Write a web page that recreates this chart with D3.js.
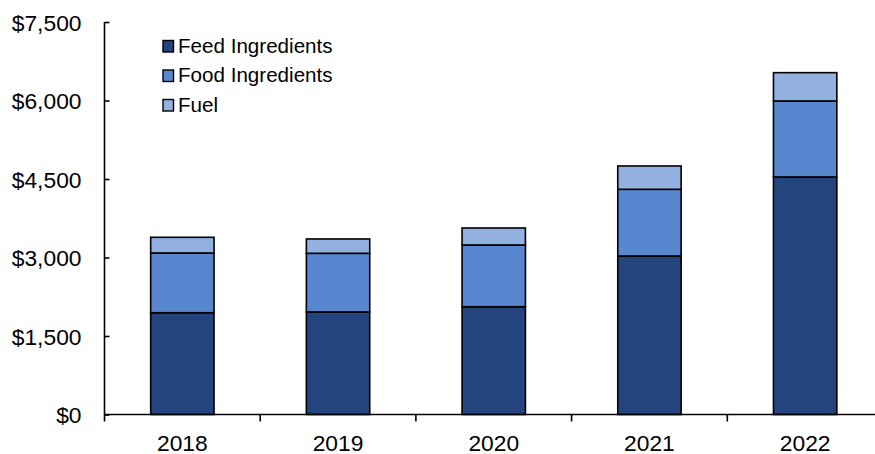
<!DOCTYPE html>
<html>
<head>
<meta charset="utf-8">
<script src="https://cdn.jsdelivr.net/npm/d3@7"></script>
<style>
  html, body { margin: 0; padding: 0; background: #fff; }
  svg { display: block; font-family: "Liberation Sans", Arial, sans-serif; }
</style>
</head>
<body>
<svg id="chart" width="875" height="454"></svg>
<script>
// Revenue by segment, $ millions
const years = ["2018", "2019", "2020", "2021", "2022"];
const feedIngredients = [1945, 1960, 2060, 3029, 4539];
const foodIngredients = [1141, 1120, 1179, 1274, 1452];
const fuel = [300, 274, 325, 446, 541];
const seriesNames = ["Feed Ingredients", "Food Ingredients", "Fuel"];
const yTicks = [0, 1500, 3000, 4500, 6000, 7500];

const colors = ["#23447c", "#5887d0", "#92b0e0"];

const svg = d3.select("#chart");
const plotLeft = 104.5, plotRight = 883, plotTop = 22, plotBottom = 414.5;

const x = d3.scaleBand().domain(years).range([plotLeft, plotRight]).padding(0);
const y = d3.scaleLinear().domain([0, 7500]).range([plotBottom, plotTop]);

const rows = years.map((yr, i) => ({
  year: yr,
  "Feed Ingredients": feedIngredients[i],
  "Food Ingredients": foodIngredients[i],
  "Fuel": fuel[i]
}));
const stacked = d3.stack().keys(seriesNames)(rows);

const barW = x.bandwidth() * 0.407;

svg.append("g")
  .selectAll("g")
  .data(stacked)
  .join("g")
  .attr("fill", (d, i) => colors[i])
  .selectAll("rect")
  .data(d => d)
  .join("rect")
  .attr("x", d => x(d.data.year) + (x.bandwidth() - barW) / 2)
  .attr("y", d => y(d[1]))
  .attr("width", barW)
  .attr("height", d => y(d[0]) - y(d[1]))
  .attr("stroke", "#000")
  .attr("stroke-width", 1.6);

// Y axis
const yAxis = d3.axisLeft(y)
  .tickValues(yTicks)
  .tickFormat(d => "$" + d3.format(",")(d))
  .tickSizeInner(-5)
  .tickSizeOuter(0)
  .tickPadding(23);

const gy = svg.append("g").attr("transform", `translate(${plotLeft},0)`).call(yAxis);
gy.select(".domain").remove();
gy.selectAll(".tick line").attr("stroke", "#000").attr("stroke-width", 1.6);
gy.selectAll(".tick text")
  .attr("fill", "#000")
  .attr("font-size", 22.8)
  .attr("dy", "0.36em");
svg.append("line")
  .attr("x1", plotLeft).attr("x2", plotLeft)
  .attr("y1", plotTop).attr("y2", plotBottom + 7)
  .attr("stroke", "#000").attr("stroke-width", 1.6);

// X axis
svg.append("line")
  .attr("x1", plotLeft).attr("x2", 875)
  .attr("y1", plotBottom).attr("y2", plotBottom)
  .attr("stroke", "#000").attr("stroke-width", 1.6);
const bounds = years.slice(1).map(d => x(d));
svg.append("g")
  .selectAll("line")
  .data(bounds)
  .join("line")
  .attr("x1", d => d).attr("x2", d => d)
  .attr("y1", plotBottom).attr("y2", plotBottom + 7)
  .attr("stroke", "#000").attr("stroke-width", 1.6);
svg.append("g")
  .selectAll("text")
  .data(years)
  .join("text")
  .attr("x", d => x(d) + x.bandwidth() / 2)
  .attr("y", plotBottom + 36)
  .attr("text-anchor", "middle")
  .attr("font-size", 22.8)
  .attr("fill", "#000")
  .text(d => d);

// Legend
const legend = svg.append("g").attr("transform", "translate(163,46)");
const items = legend.selectAll("g")
  .data(seriesNames)
  .join("g")
  .attr("transform", (d, i) => `translate(0,${i * 29.5})`);
items.append("rect")
  .attr("x", 0).attr("y", -5.5)
  .attr("width", 10.5).attr("height", 11.5)
  .attr("fill", (d, i) => colors[i])
  .attr("stroke", "#000").attr("stroke-width", 1.4);
items.append("text")
  .attr("x", 15)
  .attr("y", 6.8)
  .attr("font-size", 20.6)
  .attr("fill", "#000")
  .text(d => d);
</script>
</body>
</html>
